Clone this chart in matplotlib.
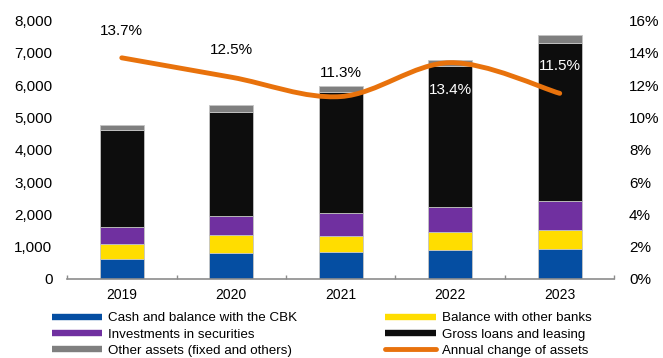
import matplotlib
matplotlib.use("Agg")
import matplotlib.pyplot as plt
from matplotlib.path import Path
from matplotlib.patches import PathPatch
from matplotlib.lines import Line2D
from matplotlib.ticker import FuncFormatter, FixedLocator

plt.rcParams['font.family'] = ['Liberation Sans', 'DejaVu Sans']

years = ["2019", "2020", "2021", "2022", "2023"]
cash_cbk = [620, 795, 845, 890, 920]
other_banks = [455, 570, 495, 575, 600]
securities = [525, 575, 690, 755, 895]
gross_loans = [3015, 3240, 3765, 4385, 4900]
other_assets = [145, 200, 175, 175, 240]
annual_change = [13.7, 12.5, 11.3, 13.4, 11.5]

series = [
    ("Cash and balance with the CBK", cash_cbk, "#054EA2"),
    ("Balance with other banks", other_banks, "#FFDD00"),
    ("Investments in securities", securities, "#7030A0"),
    ("Gross loans and leasing", gross_loans, "#0D0D0D"),
    ("Other assets (fixed and others)", other_assets, "#7F7F7F"),
]
line_color = "#E8720C"
axis_gray = "#8C8C8C"

fig = plt.figure(figsize=(6.63, 3.58), dpi=100)
ax = fig.add_axes([0.1011, 0.2207, 0.8257, 0.7215])
ax2 = ax.twinx()

x = list(range(len(years)))
bottom = [0] * len(years)
for name, vals, color in series:
    ax.bar(x, vals, width=0.4, bottom=bottom, color=color,
           edgecolor="#C4C4C4", linewidth=0.6, zorder=2)
    bottom = [b + v for b, v in zip(bottom, vals)]

ax.set_xlim(-0.5, len(years) - 0.5)
ax.set_ylim(0, 8000)
ax.set_yticks(range(0, 8001, 1000))
ax.yaxis.set_major_formatter(FuncFormatter(lambda v, p: f"{int(v):,}"))
ax.tick_params(axis="y", length=0, pad=10.5, labelsize=11)

ax.set_xticks(x)
ax.set_xticklabels(years)
ax.tick_params(axis="x", which="major", length=0, pad=6.5, labelsize=10)
ax.xaxis.set_minor_locator(FixedLocator([i - 0.5 for i in range(len(years) + 1)]))
ax.tick_params(axis="x", which="minor", direction="in", length=3,
               width=1, color=axis_gray)

for side in ["left", "right", "top"]:
    ax.spines[side].set_visible(False)
    ax2.spines[side].set_visible(False)
ax.spines["bottom"].set_color(axis_gray)
ax.spines["bottom"].set_linewidth(1.2)
ax2.spines["bottom"].set_visible(False)

ax2.set_ylim(0, 16)
ax2.set_yticks(range(0, 17, 2))
ax2.yaxis.set_major_formatter(FuncFormatter(lambda v, p: f"{int(v)}%"))
ax2.tick_params(axis="y", length=0, pad=10.5, labelsize=11)

# smoothed line: cubic bezier segments with catmull-rom style control points
pts = list(zip(x, annual_change))
verts = [pts[0]]
codes = [Path.MOVETO]
n = len(pts)
for i in range(n - 1):
    p0 = pts[max(i - 1, 0)]
    p1 = pts[i]
    p2 = pts[i + 1]
    p3 = pts[min(i + 2, n - 1)]
    c1 = (p1[0] + (p2[0] - p0[0]) / 6, p1[1] + (p2[1] - p0[1]) / 6)
    c2 = (p2[0] - (p3[0] - p1[0]) / 6, p2[1] - (p3[1] - p1[1]) / 6)
    verts += [c1, c2, p2]
    codes += [Path.CURVE4, Path.CURVE4, Path.CURVE4]
curve = PathPatch(Path(verts, codes), facecolor="none", edgecolor=line_color,
                  linewidth=3.5, capstyle="round", joinstyle="round", zorder=3)
ax2.add_patch(curve)

# value labels: the last two sit on the black bars in white
label_pos = [(19.5, "black"), (19.5, "black"), (17, "black"),
             (-19.5, "white"), (20, "white")]
for i, v in enumerate(annual_change):
    dy, col = label_pos[i]
    ax2.annotate(f"{v:.1f}%", (i, v), xytext=(0, dy), textcoords="offset points",
                 ha="center", va="center", fontsize=11, color=col, zorder=4)

# legend in two columns below the chart
def bar_handle(color):
    return Line2D([], [], color=color, linewidth=4.6, solid_capstyle="butt")

left_items = [series[0], series[2], series[4]]
right_items = [series[1], series[3]]
leg_kw = dict(frameon=False, fontsize=9.6, handlelength=3.8, handletextpad=0.45,
              labelspacing=0.3, borderpad=0, borderaxespad=0, loc="upper left")
fig.legend([bar_handle(c) for _, _, c in left_items],
           [nm for nm, _, _ in left_items],
           bbox_to_anchor=(51.7 / 663, 1 - 312 / 358), **leg_kw)
right_handles = [bar_handle(c) for _, _, c in right_items]
right_handles.append(Line2D([], [], color=line_color, linewidth=3.5,
                            solid_capstyle="round"))
right_labels = [nm for nm, _, _ in right_items] + ["Annual change of assets"]
fig.legend(right_handles, right_labels,
           bbox_to_anchor=(385 / 663, 1 - 312 / 358), **leg_kw)

fig.savefig("out.png", dpi=100)
